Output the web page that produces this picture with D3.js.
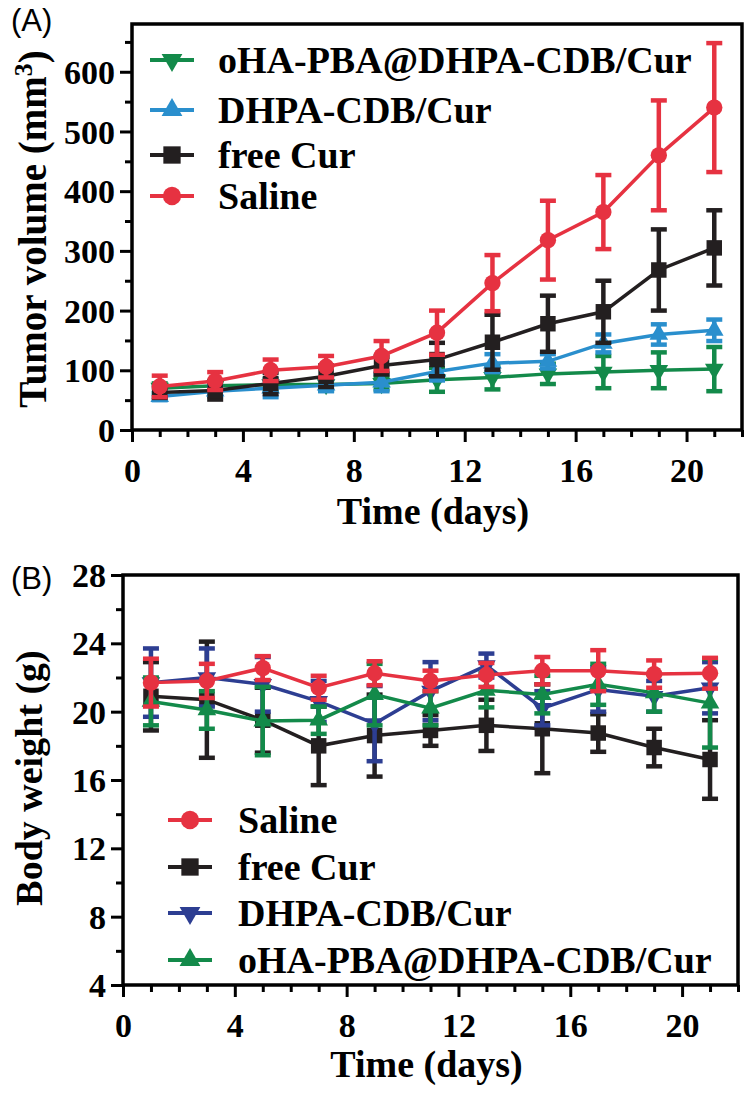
<!DOCTYPE html>
<html><head><meta charset="utf-8">
<script src="https://cdn.jsdelivr.net/npm/d3@7"></script>
<style>body{margin:0;background:#fff}svg{display:block}</style>
</head><body><svg id="c" width="750" height="1093"></svg>
<script>
// ---------------- data ----------------
const days = [1,3,5,7,9,11,13,15,17,19,21];
const xTickLabels = [0,4,8,12,16,20];
const yTickLabelsA = [0,100,200,300,400,500,600];
const yTickLabelsB = [4,8,12,16,20,24,28];

// Panel A: tumor volume (mm3)
const salineVol    = [73, 82, 100, 106, 124, 163, 246, 318, 365, 460, 540];
const salineVolErr = [18, 15, 18, 18, 25, 37, 47, 66, 62, 92, 108];
const freeCurVol    = [63, 66, 78, 90, 108, 118, 147, 178, 198, 268, 305];
const freeCurVolErr = [8, 15, 18, 18, 15, 28, 46, 47, 52, 68, 63];
const dhpaVol    = [56, 65, 70, 75, 80, 98, 112, 115, 145, 160, 167];
const dhpaVolErr = [6, 8, 15, 10, 15, 15, 15, 12, 15, 17, 18];
const ohaVol    = [70, 74, 76, 76, 78, 84, 88, 94, 97, 100, 102];
const ohaVolErr = [8, 8, 10, 10, 10, 20, 20, 17, 27, 30, 37];

// Panel B: body weight (g)
const salineBW    = [21.7, 21.8, 22.55, 21.4, 22.25, 21.8, 22.15, 22.4, 22.4, 22.2, 22.25];
const salineBWErr = [1.4, 1.0, 0.7, 0.7, 0.7, 0.6, 0.7, 0.8, 1.2, 0.8, 0.9];
const freeCurBW    = [20.9, 20.7, 19.5, 18.0, 18.6, 18.9, 19.2, 19.0, 18.75, 17.9, 17.2];
const freeCurBWErr = [2.0, 3.4, 1.9, 2.3, 2.4, 0.9, 1.5, 2.6, 1.1, 1.1, 2.3];
const dhpaBW    = [21.7, 22.0, 21.6, 20.6, 19.3, 21.2, 22.7, 20.2, 21.3, 20.9, 21.4];
const dhpaBWErr = [2.0, 1.7, 1.6, 1.2, 2.2, 1.7, 0.7, 1.0, 1.3, 0.9, 1.5];
const ohaBW    = [20.6, 20.1, 19.45, 19.5, 21.0, 20.2, 21.25, 21.0, 21.6, 21.1, 20.5];
const ohaBWErr = [1.4, 1.1, 2.0, 0.8, 1.8, 1.0, 1.0, 1.1, 1.2, 1.1, 2.6];

const RED = "#e63241", BLACK = "#231f20", LBLUE = "#2a8fcd", NAVY = "#2d3e92", GREEN = "#138a4a";
const SERIF = "'Liberation Serif','Times New Roman',serif";

const svg = d3.select("#c");

function drawPanel(cfg) {
  const g = svg.append("g");
  const x = cfg.x, y = cfg.y;
  const [x0, x1] = x.range(); const [yb, yt] = y.range();

  // series (draw order)
  cfg.series.forEach(s => {
    const pts = days.map((d, i) => ({d, v: s.vals[i], e: s.errs[i]}));
    const sg = g.append("g");
    sg.append("path").datum(pts)
      .attr("fill", "none").attr("stroke", s.color).attr("stroke-width", 3.5)
      .attr("d", d3.line().x(p => x(p.d)).y(p => y(p.v)));
    const eb = sg.selectAll(".eb").data(pts).enter().append("g");
    eb.append("line").attr("x1", p => x(p.d)).attr("x2", p => x(p.d))
      .attr("y1", p => y(p.v + p.e)).attr("y2", p => y(p.v - p.e))
      .attr("stroke", s.color).attr("stroke-width", 4.5);
    [1, -1].forEach(sign => {
      eb.append("line").attr("x1", p => x(p.d) - 8).attr("x2", p => x(p.d) + 8)
        .attr("y1", p => y(p.v + sign * p.e)).attr("y2", p => y(p.v + sign * p.e))
        .attr("stroke", s.color).attr("stroke-width", 4.5);
    });
    sg.selectAll(".mk").data(pts).enter().append("path")
      .attr("d", d3.symbol().type(s.sym).size(s.size))
      .attr("transform", p => `translate(${x(p.d)},${y(p.v)})${s.down ? " rotate(180)" : ""}`)
      .attr("fill", s.color);
  });

  // frame
  g.append("rect").attr("x", x0).attr("y", yt).attr("width", x1 - x0).attr("height", yb - yt)
    .attr("fill", "none").attr("stroke", "#000").attr("stroke-width", 3.5);

  // x axis ticks
  const xa = g.append("g").attr("transform", `translate(0,${yb})`);
  const minorX = d3.range(1, 23).filter(v => v % 4 !== 0);
  xa.call(d3.axisBottom(x).tickValues(minorX).tickSize(7).tickFormat(""));
  xa.select(".domain").remove();
  const xa2 = g.append("g").attr("transform", `translate(0,${yb})`);
  xa2.call(d3.axisBottom(x).tickValues(xTickLabels).tickSize(12).tickFormat(d3.format("d")));
  xa2.select(".domain").remove();
  xa2.selectAll("text").attr("y", 52).attr("dy", 0)
    .style("font-family", SERIF).style("font-weight", "bold").style("font-size", "34px").attr("fill", "#000");

  // y axis ticks
  const ya = g.append("g").attr("transform", `translate(${x0},0)`);
  ya.call(d3.axisLeft(y).tickValues(cfg.yMinor).tickSize(7).tickFormat(""));
  ya.select(".domain").remove();
  const ya2 = g.append("g").attr("transform", `translate(${x0},0)`);
  ya2.call(d3.axisLeft(y).tickValues(cfg.yMajor).tickSize(12).tickFormat(d3.format("d")));
  ya2.select(".domain").remove();
  ya2.selectAll("text").attr("x", -17).attr("dy", "0.34em")
    .style("font-family", SERIF).style("font-weight", "bold").style("font-size", "34px").attr("fill", "#000");
  g.selectAll(".tick line").attr("stroke", "#000").attr("stroke-width", 3);

  // axis titles
  g.append("text").attr("x", (x0 + x1) / 2 - 4).attr("y", yb + cfg.xTitleOff)
    .attr("text-anchor", "middle").style("font-family", SERIF).style("font-weight", "bold")
    .style("font-size", "38px").text("Time (days)");
  const yt_ = g.append("text").attr("transform", `translate(${cfg.yTitleX},${cfg.yTitleY}) rotate(-90)`)
    .attr("text-anchor", "middle").style("font-family", SERIF).style("font-weight", "bold")
    .style("font-size", cfg.yTitleSize + "px");
  cfg.yTitle(yt_);

  // panel label
  g.append("text").attr("x", 11).attr("y", cfg.panelY).style("font-family", "'Liberation Sans',Arial,sans-serif")
    .style("font-size", "31px").text(cfg.panel);

  // legend
  cfg.legend.forEach(l => {
    const lg = g.append("g").attr("transform", `translate(${cfg.legX},${l.y})`);
    lg.append("line").attr("x1", -22).attr("x2", 22).attr("stroke", l.s.color).attr("stroke-width", 4);
    lg.append("path").attr("d", d3.symbol().type(l.s.sym).size(l.s.size * 1.25))
      .attr("transform", l.s.down ? "rotate(180)" : null).attr("fill", l.s.color);
    lg.append("text").attr("x", cfg.legTextDx).attr("y", 12.5)
      .style("font-family", SERIF).style("font-weight", "bold").style("font-size", "38px")
      .text(l.label);
  });
}

// Panel A
const xA = d3.scaleLinear().domain([0, 22]).range([132, 742]);
const yA = d3.scaleLinear().domain([0, 680]).range([430, 24]);
const sA = {
  oha:   {vals: ohaVol, errs: ohaVolErr, color: GREEN, sym: d3.symbolTriangle, size: 150, down: true},
  dhpa:  {vals: dhpaVol, errs: dhpaVolErr, color: LBLUE, sym: d3.symbolTriangle, size: 150, down: false},
  free:  {vals: freeCurVol, errs: freeCurVolErr, color: BLACK, sym: d3.symbolSquare, size: 240},
  saline:{vals: salineVol, errs: salineVolErr, color: RED, sym: d3.symbolCircle, size: 210}
};
drawPanel({
  x: xA, y: yA, series: [sA.oha, sA.dhpa, sA.free, sA.saline],
  yMajor: yTickLabelsA, yMinor: d3.range(50, 700, 100),
  xTitleOff: 94, yTitleX: 46, yTitleY: 229, yTitleSize: 39,
  yTitle: t => { t.append("tspan").text("Tumor volume (mm");
                 t.append("tspan").attr("dy", -14).style("font-size", "26px").text("3");
                 t.append("tspan").attr("dy", 14).text(")"); },
  panel: "(A)", panelY: 31,
  legX: 172, legTextDx: 46,
  legend: [
    {s: sA.oha, label: "oHA-PBA@DHPA-CDB/Cur", y: 60},
    {s: sA.dhpa, label: "DHPA-CDB/Cur", y: 110},
    {s: sA.free, label: "free Cur", y: 155},
    {s: sA.saline, label: "Saline", y: 196}
  ]
});

// Panel B
const xB = d3.scaleLinear().domain([0, 22]).range([123, 738]);
const yB = d3.scaleLinear().domain([4, 28]).range([985, 575]);
const sB = {
  saline:{vals: salineBW, errs: salineBWErr, color: RED, sym: d3.symbolCircle, size: 210},
  free:  {vals: freeCurBW, errs: freeCurBWErr, color: BLACK, sym: d3.symbolSquare, size: 240},
  dhpa:  {vals: dhpaBW, errs: dhpaBWErr, color: NAVY, sym: d3.symbolTriangle, size: 150, down: true},
  oha:   {vals: ohaBW, errs: ohaBWErr, color: GREEN, sym: d3.symbolTriangle, size: 150, down: false}
};
drawPanel({
  x: xB, y: yB, series: [sB.free, sB.dhpa, sB.oha, sB.saline],
  yMajor: yTickLabelsB, yMinor: d3.range(6, 28, 4),
  xTitleOff: 92, yTitleX: 42, yTitleY: 778, yTitleSize: 38,
  yTitle: t => t.text("Body weight (g)"),
  panel: "(B)", panelY: 589,
  legX: 190, legTextDx: 48,
  legend: [
    {s: sB.saline, label: "Saline", y: 820},
    {s: sB.free, label: "free Cur", y: 867},
    {s: sB.dhpa, label: "DHPA-CDB/Cur", y: 913},
    {s: sB.oha, label: "oHA-PBA@DHPA-CDB/Cur", y: 960}
  ]
});
</script></body></html>
